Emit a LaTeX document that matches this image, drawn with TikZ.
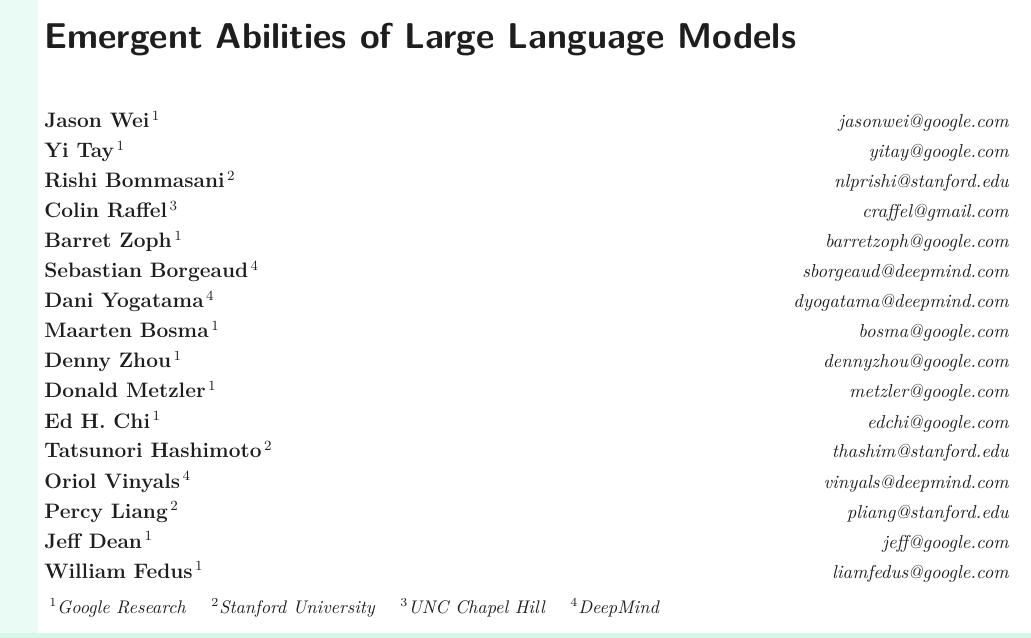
\documentclass[tikz,border=0pt]{standalone}
\usepackage{tikz}
\usepackage{amsmath}
\usepackage{xcolor}
\usetikzlibrary{positioning}

\definecolor{stripmint}{HTML}{E9FBF4}
\definecolor{edgemint}{HTML}{D6F7E9}
\definecolor{inkgray}{HTML}{1E1E1E}

\begin{document}
\begin{tikzpicture}[x=0.02cm, y=-0.02cm, inkgray,
    titletext/.style={anchor=base west, inner sep=0, font=\fontsize{20.4}{24}\sffamily\bfseries},
    nametext/.style={anchor=base west, inner sep=0, font=\fontsize{11.9}{14}\bfseries},
    mailtext/.style={anchor=base east, inner sep=0, font=\fontsize{10.65}{13}\itshape},
    affiltext/.style={anchor=base west, inner sep=0, font=\fontsize{10.4}{12}\itshape}]
    \def\xl{44}
    \def\xr{1009}
    \def\yo{128}
    \def\g{30}
    \useasboundingbox (0,0) rectangle (1031,638);
    \fill[white] (0,0) rectangle (1031,638);
    \fill[stripmint] (0,0) rectangle (38,638);
    \fill[edgemint] (0,633) rectangle (1031,638);

    \node(t) [titletext] at (\xl, 49) {Emergent Abilities of Large Language Models};

    \node(a1) [nametext] at (\xl, \yo + \g * 0) {Jason Wei$^{\,1}$};
    \node(a2) [nametext] at (\xl, \yo + \g * 1) {Yi Tay$^{\,1}$};
    \node(a3) [nametext] at (\xl, \yo + \g * 2) {Rishi Bommasani$^{\,2}$};
    \node(a4) [nametext] at (\xl, \yo + \g * 3) {Colin Raffel$^{\,3}$};
    \node(a5) [nametext] at (\xl, \yo + \g * 4) {Barret Zoph$^{\,1}$};
    \node(a6) [nametext] at (\xl, \yo + \g * 5) {Sebastian Borgeaud$^{\,4}$};
    \node(a7) [nametext] at (\xl, \yo + \g * 6) {Dani Yogatama$^{\,4}$};
    \node(a8) [nametext] at (\xl, \yo + \g * 7) {Maarten Bosma$^{\,1}$};
    \node(a9) [nametext] at (\xl, \yo + \g * 8) {Denny Zhou$^{\,1}$};
    \node(a10) [nametext] at (\xl, \yo + \g * 9) {Donald Metzler$^{\,1}$};
    \node(a11) [nametext] at (\xl, \yo + \g * 10) {Ed H. Chi$^{\,1}$};
    \node(a12) [nametext] at (\xl, \yo + \g * 11) {Tatsunori Hashimoto$^{\,2}$};
    \node(a13) [nametext] at (\xl, \yo + \g * 12) {Oriol Vinyals$^{\,4}$};
    \node(a14) [nametext] at (\xl, \yo + \g * 13) {Percy Liang$^{\,2}$};
    \node(a15) [nametext] at (\xl, \yo + \g * 14) {Jeff Dean$^{\,1}$};
    \node(a16) [nametext] at (\xl, \yo + \g * 15) {William Fedus$^{\,1}$};

    \node(e1) [mailtext] at (\xr, \yo + \g * 0) {jasonwei@google.com};
    \node(e2) [mailtext] at (\xr, \yo + \g * 1) {yitay@google.com};
    \node(e3) [mailtext] at (\xr, \yo + \g * 2) {nlprishi@stanford.edu};
    \node(e4) [mailtext] at (\xr, \yo + \g * 3) {craffel@gmail.com};
    \node(e5) [mailtext] at (\xr, \yo + \g * 4) {barretzoph@google.com};
    \node(e6) [mailtext] at (\xr, \yo + \g * 5) {sborgeaud@deepmind.com};
    \node(e7) [mailtext] at (\xr, \yo + \g * 6) {dyogatama@deepmind.com};
    \node(e8) [mailtext] at (\xr, \yo + \g * 7) {bosma@google.com};
    \node(e9) [mailtext] at (\xr, \yo + \g * 8) {dennyzhou@google.com};
    \node(e10) [mailtext] at (\xr, \yo + \g * 9) {metzler@google.com};
    \node(e11) [mailtext] at (\xr, \yo + \g * 10) {edchi@google.com};
    \node(e12) [mailtext] at (\xr, \yo + \g * 11) {thashim@stanford.edu};
    \node(e13) [mailtext] at (\xr, \yo + \g * 12) {vinyals@deepmind.com};
    \node(e14) [mailtext] at (\xr, \yo + \g * 13) {pliang@stanford.edu};
    \node(e15) [mailtext] at (\xr, \yo + \g * 14) {jeff@google.com};
    \node(e16) [mailtext] at (\xr, \yo + \g * 15) {liamfedus@google.com};

    \node(f) [affiltext] at (49, 613)
        {$^{1}$Google Research\hspace{1.4em}$^{2}$Stanford University\hspace{1.4em}$^{3}$UNC Chapel Hill\hspace{1.4em}$^{4}$DeepMind};
\end{tikzpicture}
\end{document}
